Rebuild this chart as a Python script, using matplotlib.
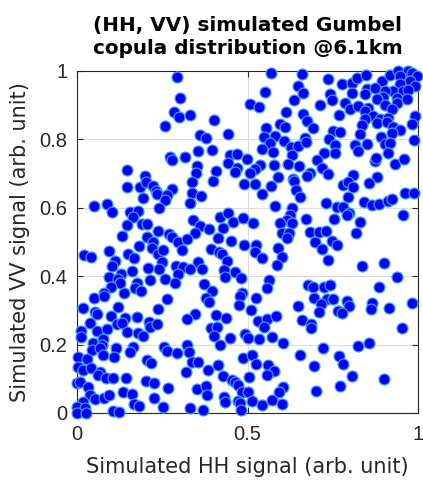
import matplotlib
matplotlib.use('Agg')
import matplotlib.pyplot as plt

plt.rcParams['font.family'] = ['Liberation Sans', 'DejaVu Sans']

# simulated (HH, VV) pairs, grouped by area of the plot
hh_top = [0.292, 0.302, 0.285, 0.299, 0.259, 0.273, 0.280, 0.316, 0.146, 0.199,
          0.569, 0.649, 0.551, 0.637, 0.507, 0.534, 0.331, 0.403, 0.612, 0.554,
          0.595, 0.610, 0.444, 0.361, 0.378, 0.548, 0.581, 0.607, 0.566, 0.628,
          0.649, 0.542, 0.574, 0.630, 0.356, 0.397, 0.449, 0.468, 0.498, 0.444,
          0.468, 0.463, 0.353, 0.349, 0.407, 0.537, 0.522, 0.507, 0.579, 0.618,
          0.652, 0.589, 0.634,
          0.659, 0.737, 0.776, 0.806, 0.822, 0.847, 0.894, 0.918, 0.942, 0.972,
          0.981, 0.998, 0.947, 0.977, 0.947, 0.991, 0.928, 0.957, 0.972, 0.663,
          0.806, 0.742, 0.747, 0.850, 0.874, 0.845, 0.903, 0.898, 0.879, 0.937,
          0.967, 0.937, 0.786, 0.713, 0.801, 0.825, 0.854, 0.845, 0.903, 0.923,
          0.664, 0.769, 0.869, 0.889, 0.913, 0.845, 0.991, 0.674, 0.835, 0.879,
          0.908, 0.928, 0.947, 0.981, 0.693, 0.752, 0.771, 0.830, 0.923, 0.669,
          0.672, 0.740, 0.891, 0.903, 0.918, 0.989, 0.757, 0.815, 0.825, 0.850,
          0.757, 0.724, 0.913, 0.874, 0.877, 0.933, 0.960, 0.703, 0.718, 0.683,
          0.737, 0.674, 0.810, 0.879]
vv_top = [0.983, 0.922, 0.881, 0.866, 0.839, 0.749, 0.739, 0.749, 0.711, 0.693,
          0.995, 0.956, 0.939, 0.914, 0.903, 0.896, 0.871, 0.857, 0.880, 0.834,
          0.844, 0.836, 0.815, 0.812, 0.805, 0.808, 0.810, 0.795, 0.790, 0.779,
          0.781, 0.773, 0.763, 0.753, 0.766, 0.769, 0.754, 0.756, 0.742, 0.732,
          0.717, 0.705, 0.722, 0.703, 0.708, 0.725, 0.713, 0.701, 0.725, 0.729,
          0.722, 0.690, 0.685,
          0.990, 0.976, 0.961, 0.966, 0.980, 0.987, 0.971, 0.987, 1.000, 1.000,
          0.995, 0.985, 0.985, 0.971, 0.961, 0.956, 0.942, 0.942, 0.944, 0.936,
          0.937, 0.932, 0.914, 0.946, 0.951, 0.932, 0.942, 0.925, 0.917, 0.922,
          0.917, 0.906, 0.907, 0.900, 0.890, 0.898, 0.893, 0.883, 0.900, 0.890,
          0.875, 0.871, 0.868, 0.861, 0.863, 0.859, 0.868, 0.854, 0.841, 0.847,
          0.851, 0.837, 0.827, 0.844, 0.834, 0.825, 0.822, 0.815, 0.818, 0.805,
          0.792, 0.800, 0.807, 0.786, 0.790, 0.798, 0.783, 0.783, 0.766, 0.786,
          0.759, 0.761, 0.759, 0.737, 0.746, 0.729, 0.742, 0.739, 0.717, 0.701,
          0.698, 0.693, 0.695, 0.690]

hh_mid = [0.148, 0.185, 0.202, 0.222, 0.232, 0.235, 0.278, 0.265, 0.258, 0.193,
          0.051, 0.089, 0.102, 0.155, 0.180, 0.165, 0.241, 0.146, 0.190, 0.204,
          0.131, 0.237, 0.204, 0.270, 0.278, 0.297, 0.224, 0.183, 0.219, 0.307,
          0.021, 0.040, 0.095, 0.150, 0.167, 0.238, 0.251, 0.248, 0.111, 0.102,
          0.290, 0.312, 0.209, 0.241, 0.160, 0.297, 0.129, 0.095, 0.121, 0.126,
          0.175, 0.214, 0.258, 0.287, 0.099, 0.080, 0.138, 0.170, 0.188,
          0.336, 0.400, 0.490, 0.522, 0.568, 0.637, 0.642, 0.654, 0.338, 0.363,
          0.330, 0.543, 0.581, 0.630, 0.625, 0.615, 0.630, 0.595, 0.419, 0.444,
          0.458, 0.488, 0.517, 0.341, 0.361, 0.387, 0.346, 0.429, 0.602, 0.622,
          0.615, 0.322, 0.413, 0.452, 0.491, 0.524, 0.522, 0.543, 0.590, 0.600,
          0.586, 0.393, 0.416, 0.426, 0.441, 0.356, 0.366, 0.331, 0.432, 0.463,
          0.434, 0.481, 0.563, 0.556, 0.373, 0.395, 0.483,
          0.781, 0.796, 0.808, 0.856, 0.794, 0.962, 0.989, 0.729, 0.761, 0.781,
          0.842, 0.866, 0.886, 0.913, 0.923, 0.798, 0.791, 0.672, 0.755, 0.830,
          0.957, 0.683, 0.710, 0.730, 0.817, 0.698, 0.719, 0.749, 0.763, 0.737,
          0.835, 0.900, 0.939, 0.678, 0.691, 0.724, 0.742, 0.886]
vv_mid = [0.660, 0.660, 0.676, 0.664, 0.650, 0.640, 0.654, 0.637, 0.623, 0.628,
          0.605, 0.611, 0.589, 0.589, 0.592, 0.574, 0.599, 0.550, 0.553, 0.553,
          0.518, 0.533, 0.514, 0.523, 0.514, 0.499, 0.501, 0.488, 0.482, 0.477,
          0.462, 0.457, 0.475, 0.465, 0.452, 0.465, 0.477, 0.442, 0.445, 0.430,
          0.430, 0.426, 0.423, 0.420, 0.416, 0.406, 0.406, 0.399, 0.391, 0.379,
          0.381, 0.389, 0.391, 0.381, 0.368, 0.352, 0.350, 0.365, 0.357,
          0.676, 0.678, 0.669, 0.670, 0.664, 0.678, 0.652, 0.632, 0.642, 0.635,
          0.615, 0.640, 0.605, 0.599, 0.579, 0.564, 0.556, 0.555, 0.574, 0.584,
          0.559, 0.571, 0.555, 0.564, 0.547, 0.537, 0.527, 0.540, 0.525, 0.525,
          0.511, 0.508, 0.511, 0.504, 0.491, 0.491, 0.472, 0.452, 0.483, 0.457,
          0.433, 0.479, 0.472, 0.465, 0.445, 0.442, 0.420, 0.420, 0.418, 0.413,
          0.397, 0.394, 0.389, 0.365, 0.377, 0.358, 0.352,
          0.667, 0.676, 0.662, 0.673, 0.632, 0.644, 0.644, 0.615, 0.601, 0.603,
          0.618, 0.608, 0.611, 0.621, 0.625, 0.586, 0.579, 0.567, 0.567, 0.558,
          0.579, 0.530, 0.530, 0.533, 0.525, 0.501, 0.480, 0.504, 0.491, 0.447,
          0.430, 0.438, 0.397, 0.374, 0.369, 0.368, 0.374, 0.369]

hh_low = [0.050, 0.079, 0.263, 0.018, 0.053, 0.058, 0.119, 0.238, 0.099, 0.141,
          0.175, 0.038, 0.116, 0.131, 0.212, 0.214, 0.234, 0.012, 0.012, 0.058,
          0.089, 0.148, 0.178, 0.193, 0.046, 0.077, 0.072, 0.043, 0.067, 0.113,
          0.165, 0.155, 0.256, 0.263, 0.292, 0.075, 0.109, 0.004, 0.028, 0.204,
          0.216, 0.004, 0.018, 0.041, 0.067, 0.062, 0.085, 0.106, 0.143, 0.202,
          0.226, 0.000, 0.009, 0.033, 0.268, 0.136, 0.160, 0.038, 0.053, 0.079,
          0.095, 0.017, 0.227, 0.168, 0.183, 0.253, 0.000, 0.023, 0.000, 0.026,
          0.105, 0.123,
          0.377, 0.387, 0.478, 0.525, 0.475, 0.510, 0.346, 0.322, 0.407, 0.436,
          0.532, 0.558, 0.584, 0.548, 0.648, 0.393, 0.411, 0.403, 0.450, 0.494,
          0.500, 0.534, 0.571, 0.603, 0.419, 0.322, 0.327, 0.654, 0.488, 0.512,
          0.525, 0.336, 0.356, 0.320, 0.413, 0.383, 0.561, 0.579, 0.556, 0.427,
          0.504, 0.454, 0.462, 0.473, 0.351, 0.377, 0.380, 0.485, 0.501, 0.605,
          0.593, 0.432, 0.434, 0.471, 0.478, 0.514, 0.542, 0.573, 0.602, 0.331,
          0.370, 0.481,
          0.695, 0.732, 0.752, 0.791, 0.798, 0.716, 0.711, 0.765, 0.776, 0.866,
          0.862, 0.916, 0.983, 0.659, 0.685, 0.686, 0.954, 0.722, 0.823, 0.856,
          0.768, 0.779, 0.695, 0.806, 0.900, 0.771, 0.701]
vv_low = [0.337, 0.343, 0.333, 0.306, 0.296, 0.289, 0.309, 0.304, 0.284, 0.277,
          0.280, 0.264, 0.259, 0.264, 0.265, 0.252, 0.259, 0.241, 0.221, 0.240,
          0.245, 0.238, 0.233, 0.225, 0.206, 0.215, 0.199, 0.184, 0.189, 0.191,
          0.194, 0.179, 0.194, 0.181, 0.175, 0.170, 0.165, 0.163, 0.157, 0.155,
          0.145, 0.135, 0.126, 0.132, 0.119, 0.111, 0.103, 0.103, 0.101, 0.094,
          0.087, 0.087, 0.090, 0.077, 0.072, 0.060, 0.056, 0.053, 0.040, 0.045,
          0.053, 0.033, 0.043, 0.025, 0.021, 0.018, 0.018, 0.014, 0.000, 0.000,
          0.006, 0.002,
          0.337, 0.325, 0.343, 0.335, 0.316, 0.301, 0.289, 0.274, 0.287, 0.279,
          0.270, 0.275, 0.284, 0.251, 0.313, 0.248, 0.252, 0.226, 0.218, 0.230,
          0.220, 0.216, 0.223, 0.206, 0.199, 0.199, 0.179, 0.171, 0.160, 0.170,
          0.142, 0.150, 0.150, 0.121, 0.140, 0.126, 0.140, 0.123, 0.111, 0.109,
          0.106, 0.096, 0.090, 0.082, 0.070, 0.080, 0.053, 0.062, 0.060, 0.077,
          0.062, 0.048, 0.033, 0.035, 0.028, 0.035, 0.023, 0.038, 0.025, 0.014,
          0.009, 0.009,
          0.337, 0.333, 0.333, 0.327, 0.313, 0.318, 0.294, 0.298, 0.292, 0.321,
          0.303, 0.306, 0.321, 0.272, 0.259, 0.248, 0.248, 0.191, 0.196, 0.206,
          0.167, 0.142, 0.137, 0.109, 0.099, 0.080, 0.064]

hh_signal = hh_top + hh_mid + hh_low
vv_signal = vv_top + vv_mid + vv_low

x_ticks = [0, 0.5, 1]
y_ticks = [0, 0.2, 0.4, 0.6, 0.8, 1]

fig = plt.figure(figsize=(4.23, 4.8), dpi=100)
ax = fig.add_axes([77 / 423, 67 / 480, 341 / 423, 342 / 480])

ax.scatter(hh_signal, vv_signal, s=62, c='#0000ff', edgecolors='#3f9ff0',
           linewidths=0.9, clip_on=False, zorder=3)

ax.set_xlim(0, 1)
ax.set_ylim(0, 1)
ax.set_xticks(x_ticks)
ax.set_xticklabels(['0', '0.5', '1'])
ax.set_yticks(y_ticks)
ax.set_yticklabels(['0', '0.2', '0.4', '0.6', '0.8', '1'])
ax.grid(True, color='#dcdcdc', linewidth=0.8)
ax.set_axisbelow(True)

for sp in ax.spines.values():
    sp.set_color('#262626')
    sp.set_linewidth(0.8)
ax.tick_params(direction='in', length=4, width=0.8, colors='#262626',
               labelsize=14.5, top=True, right=True)
ax.tick_params(axis='x', pad=9)
ax.tick_params(axis='y', pad=7)

label_font = {'family': 'DejaVu Sans', 'size': 15, 'color': '#262626'}
ax.set_xlabel('Simulated HH signal (arb. unit)', fontdict=label_font, labelpad=9)
ax.set_ylabel('Simulated VV signal (arb. unit)', fontdict=label_font, labelpad=7)
ax.set_title('(HH, VV) simulated Gumbel\ncopula distribution @6.1km',
             family='DejaVu Sans', fontsize=14.4, fontweight='bold', pad=12,
             linespacing=1.3)

fig.savefig('out.png', dpi=100)
